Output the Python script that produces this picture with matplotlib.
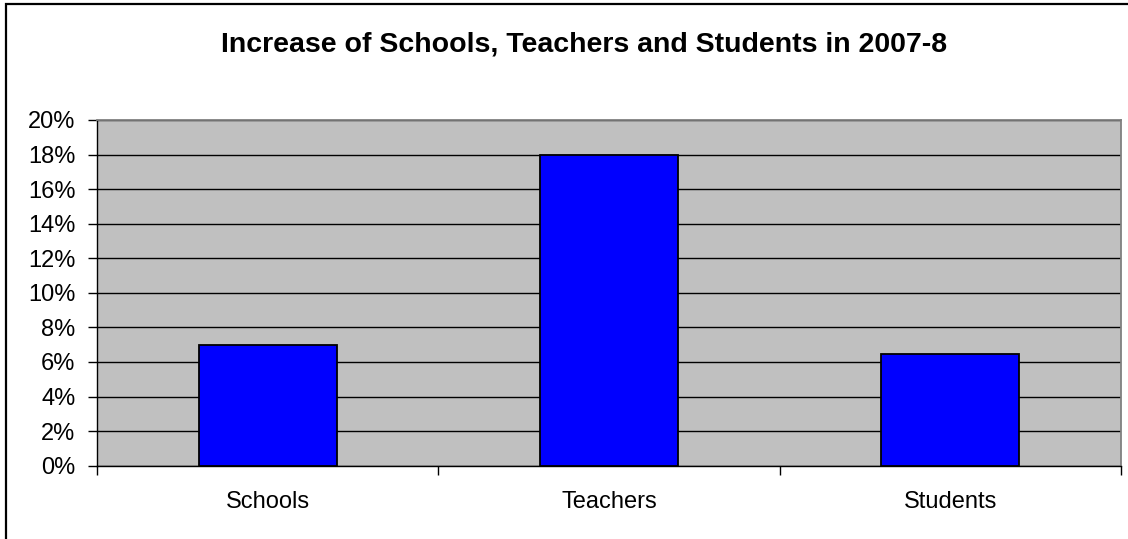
import matplotlib
matplotlib.use("Agg")
import matplotlib.pyplot as plt
from matplotlib.patches import Rectangle
from matplotlib.ticker import FuncFormatter, MultipleLocator

categories = ["Schools", "Teachers", "Students"]
increase_pct = [7.0, 18.0, 6.45]
title = "Increase of Schools, Teachers and Students in 2007-8"

plt.rcParams["font.family"] = ["Liberation Sans", "DejaVu Sans"]

W, H = 1128, 539
fig = plt.figure(figsize=(W / 100, H / 100), dpi=100)

# outer chart frame
fig.patches.append(Rectangle((6 / W, -0.1), 1.2, (H - 4) / H + 0.1,
                             transform=fig.transFigure, fill=False,
                             edgecolor="black", linewidth=1.6))

left, right, top, bottom = 97, 1121, 120, 465.7
ax = fig.add_axes([left / W, (H - bottom) / H, (right - left) / W, (bottom - top) / H])
ax.set_facecolor("#C0C0C0")

x = list(range(len(categories)))
ax.bar(x, increase_pct, width=0.405, color="#0000FF", edgecolor="black",
       linewidth=1.3, zorder=3)

ax.set_xlim(-0.5, len(categories) - 0.5)
ax.set_ylim(0, 20)
ax.yaxis.set_major_locator(MultipleLocator(2))
ax.yaxis.set_major_formatter(FuncFormatter(lambda v, p: f"{v:.0f}%"))
ax.grid(axis="y", color="black", linewidth=1.0, zorder=1)
ax.set_axisbelow(True)

# category labels centred, ticks on category boundaries
ax.set_xticks(x)
ax.set_xticklabels(categories)
ax.set_xticks([-0.5 + i for i in range(len(categories) + 1)], minor=True)
ax.tick_params(axis="x", which="major", length=0, pad=18, labelsize=17)
ax.tick_params(axis="x", which="minor", length=6.5, width=1, color="black", direction="out")
ax.tick_params(axis="y", length=6.5, width=1, color="black", direction="out",
               pad=9, labelsize=17)

for side in ("top", "right"):
    ax.spines[side].set_color("#808080")
    ax.spines[side].set_linewidth(1.3)
for side in ("left", "bottom"):
    ax.spines[side].set_color("black")
    ax.spines[side].set_linewidth(1.0)

fig.text(584 / W, (H - 45) / H, title, ha="center", va="center",
         fontsize=20.5, fontweight="bold")

fig.savefig("out.png", dpi=100)
